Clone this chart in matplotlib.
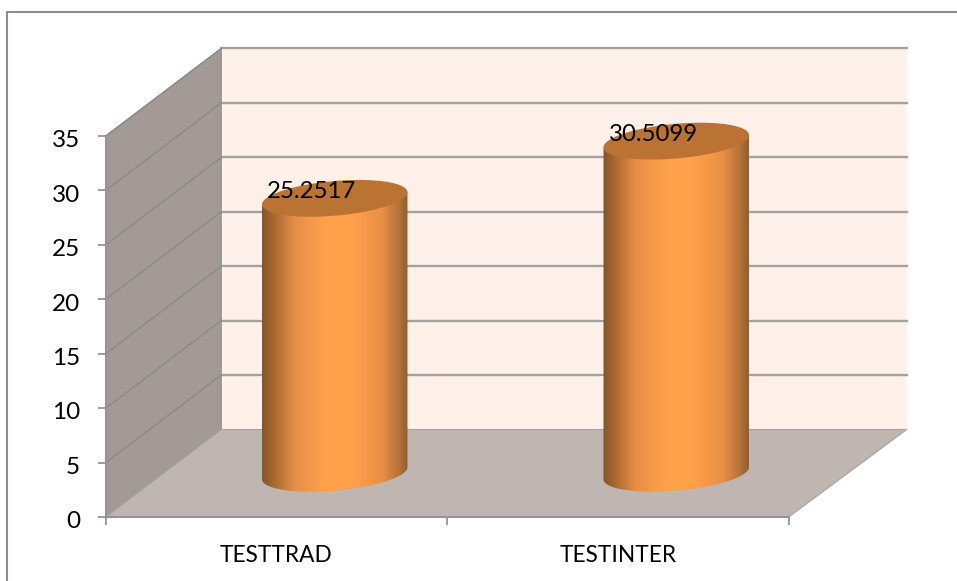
#!/usr/bin/env python3
import numpy as np
import matplotlib
matplotlib.use("Agg")
import matplotlib.pyplot as plt
from matplotlib.colors import LinearSegmentedColormap
from matplotlib.lines import Line2D
from matplotlib.patches import Polygon
from matplotlib.transforms import ScaledTranslation

categories = ["TESTTRAD", "TESTINTER"]
values = [25.2517, 30.5099]
value_labels = ["25.2517", "30.5099"]
y_ticks = [0, 5, 10, 15, 20, 25, 30, 35]

W, H = 957, 581
PX_PER_CAT = 341.5
PX_PER_VAL = 10.886
X0_PX = 276.5   # first category on the front axis
Y0_PX = 517     # value 0 on the front axis
# depth of the fake 3d box, in data units
DEPTH_X = 115.5 / PX_PER_CAT
DEPTH_Y = 87.5 / PX_PER_VAL

GRID = "#a2a2a2"
AXIS = "#949494"

plt.rcParams["font.family"] = ["Lato", "DejaVu Sans"]
fig = plt.figure(figsize=(W / 100, H / 100), dpi=100)
ax = fig.add_axes([0, 0, 1, 1])
ax.patch.set_alpha(0)


def project(cat, val, depth):
    return cat + depth * DEPTH_X, val + depth * DEPTH_Y


def box_corners(points):
    return [project(*p) for p in points]


left, right = -0.5, 1.5
back_right = right + 2.5 / PX_PER_CAT   # back wall runs a little further than the front edge
top = y_ticks[-1]

# back wall, side wall, floor
ax.add_patch(Polygon(box_corners([(left, 0, 1), (back_right, 0, 1), (back_right, top, 1), (left, top, 1)]),
                     fc="#fff0e9", ec="none", zorder=1))
ax.add_patch(Polygon(box_corners([(left, 0, 0), (left, 0, 1), (left, top, 1), (left, top, 0)]),
                     fc="#a39a95", ec="#8f8f8f", lw=0.8, zorder=2))
ax.add_patch(Polygon(box_corners([(left, 0, 0), (right, 0, 0), (back_right, 0, 1), (left, 0, 1)]),
                     fc="#bfb5b1", ec="#a8a3a0", lw=0.8, zorder=2))

for tick in y_ticks[1:]:
    xs, ys = zip(*box_corners([(left, tick, 1), (back_right, tick, 1)]))
    ax.plot(xs, ys, color=GRID, lw=1.7, zorder=1.5)
    xs, ys = zip(*box_corners([(left, tick, 0), (left, tick, 1)]))
    ax.plot(xs, ys, color="#8a8a8a", lw=1.0, zorder=3)

# cylinders
body_cmap = LinearSegmentedColormap.from_list("body", [
    (0.0, "#84552a"), (0.08, "#a9692f"), (0.22, "#e58e48"), (0.42, "#ffa14b"),
    (0.62, "#ffa04a"), (0.82, "#e98f46"), (0.93, "#b5743a"), (1.0, "#8f5c2d"),
])
A_PX, B_PX = 73.0, 17.3
TILT = np.radians(5.1)
CENTER_SHIFT = 0.5 / PX_PER_CAT


def ellipse_px(t):
    x = A_PX * np.cos(t) * np.cos(TILT) - B_PX * np.sin(t) * np.sin(TILT)
    y = A_PX * np.cos(t) * np.sin(TILT) + B_PX * np.sin(t) * np.cos(TILT)
    return x / PX_PER_CAT, y / PX_PER_VAL


t_right = np.arctan2(-B_PX * np.sin(TILT), A_PX * np.cos(TILT))
half_width = A_PX / PX_PER_CAT * 1.002

for i, val in enumerate(values):
    cx, base = project(i, 0, 0.5)
    _, tip = project(i, val, 0.5)
    cx += CENTER_SHIFT

    # outline: front arc of the base ellipse, then straight up to the top ellipse
    ex, ey = ellipse_px(np.linspace(t_right, t_right - np.pi, 80))
    outline_x = np.r_[cx + ex, cx + ex[-1], cx + ex[0]]
    outline_y = np.r_[base + ey, tip + ey[-1], tip + ey[0]]
    clip = Polygon(np.c_[outline_x, outline_y], transform=ax.transData, fc="none", ec="none")
    ax.add_patch(clip)
    img = ax.imshow(np.linspace(0, 1, 256).reshape(1, -1), cmap=body_cmap, aspect="auto",
                    extent=(cx - half_width, cx + half_width, base - 3, tip + 3),
                    zorder=4, interpolation="bilinear")
    img.set_clip_path(clip)

    ex, ey = ellipse_px(np.linspace(0, 2 * np.pi, 160))
    ax.add_patch(Polygon(np.c_[cx + ex, tip + ey], fc="#bb7333", ec="none", zorder=5))

    ax.annotate(value_labels[i], (cx, tip), xytext=(-16.5, 5), textcoords="offset points",
                ha="center", va="center", fontsize=17.3, color="black", zorder=6)

# the axes themselves sit on the front edge of the box
ax.set_xlim(-X0_PX / PX_PER_CAT, (W - X0_PX) / PX_PER_CAT)
ax.set_ylim((Y0_PX - H) / PX_PER_VAL, Y0_PX / PX_PER_VAL)
for side in ["top", "right"]:
    ax.spines[side].set_visible(False)
ax.spines["left"].set_position(("data", left))
ax.spines["left"].set_bounds(0, top)
ax.spines["bottom"].set_position(("data", 0))
ax.spines["bottom"].set_bounds(left, right)
for side in ["left", "bottom"]:
    ax.spines[side].set_color(AXIS)
    ax.spines[side].set_linewidth(1.5)
    ax.spines[side].set_zorder(3)

ax.set_yticks(y_ticks)
ax.set_xticks(range(len(categories)), categories)
ax.set_xticks([-0.5, 0.5, 1.5], minor=True)
ax.tick_params(axis="y", length=6, width=1.3, color=AXIS, pad=12.5, labelsize=17.5, labelcolor="black")
ax.tick_params(axis="x", which="major", length=0, pad=20, labelsize=16.3, labelcolor="black")
ax.tick_params(axis="x", which="minor", length=6, width=1.3, color=AXIS)

# labels sit a bit below their ticks in the original
nudge = ScaledTranslation(0, -2 / 72, fig.dpi_scale_trans)
for label in ax.get_yticklabels():
    label.set_transform(label.get_transform() + nudge)

# outer chart frame, runs off the right and bottom of the picture
frame_x = np.array([7, 7, W]) / W
frame_y = 1 - np.array([H, 12, 12]) / H
fig.add_artist(Line2D(frame_x, frame_y, color="#8c8c8c", lw=1.5, transform=fig.transFigure))

fig.savefig("out.png", dpi=100)
